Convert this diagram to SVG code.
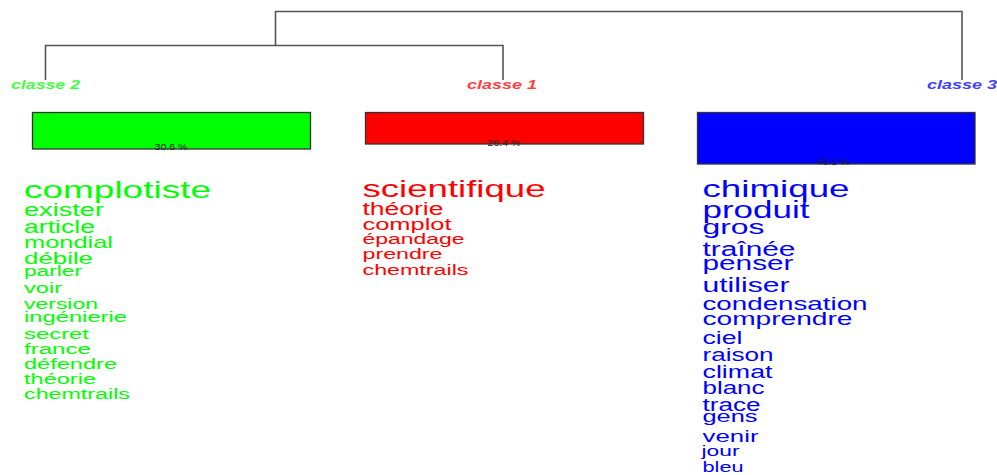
<svg xmlns="http://www.w3.org/2000/svg" width="997" height="475" viewBox="0 0 997 475">
<style>
text{font-family:"Liberation Sans",Arial,sans-serif}
.lbl{font-size:12px;font-style:italic;font-weight:bold}
.pct{font-size:9px;fill:#222;text-anchor:middle}
.g{fill:#00ff00}.r{fill:#ff0000}.b{fill:#0000ff}
.tree{fill:none;stroke:#555;stroke-width:1.6}
.box{stroke:#333;stroke-width:1.3}
</style>
<rect width="997" height="475" fill="#fff"/>
<g id="connectors">
<path class="tree" d="M275.5,45.5V11.5H962V80"/>
<path class="tree" d="M45.5,80V45.5H503V80"/>
</g>
<g id="classe2">
<text class="lbl g" x="11" y="89" textLength="69" lengthAdjust="spacingAndGlyphs" opacity="0.75">classe  2</text>
<rect class="box" x="32.5" y="112.5" width="278" height="36.5" fill="#00ff00"/>
<text class="pct" x="171" y="150" textLength="33" lengthAdjust="spacingAndGlyphs">30.6 %</text>
<g class="g">
<text x="24" y="198" font-size="24" textLength="187" lengthAdjust="spacingAndGlyphs">complotiste</text>
<text x="24" y="216" font-size="18" textLength="80" lengthAdjust="spacingAndGlyphs">exister</text>
<text x="24" y="233" font-size="17.5" textLength="71" lengthAdjust="spacingAndGlyphs">article</text>
<text x="24" y="247.5" font-size="17" textLength="89" lengthAdjust="spacingAndGlyphs">mondial</text>
<text x="24" y="263.5" font-size="17" textLength="69" lengthAdjust="spacingAndGlyphs">débile</text>
<text x="24" y="276" font-size="15.5" textLength="58" lengthAdjust="spacingAndGlyphs">parler</text>
<text x="24" y="293" font-size="15.5" textLength="38" lengthAdjust="spacingAndGlyphs">voir</text>
<text x="24" y="308.5" font-size="15.5" textLength="74" lengthAdjust="spacingAndGlyphs">version</text>
<text x="24" y="322" font-size="15.5" textLength="103" lengthAdjust="spacingAndGlyphs">ingénierie</text>
<text x="24" y="338.5" font-size="15.5" textLength="65" lengthAdjust="spacingAndGlyphs">secret</text>
<text x="24" y="354" font-size="15.5" textLength="67" lengthAdjust="spacingAndGlyphs">france</text>
<text x="24" y="369" font-size="15.5" textLength="93" lengthAdjust="spacingAndGlyphs">défendre</text>
<text x="24" y="383.5" font-size="15.5" textLength="72" lengthAdjust="spacingAndGlyphs">théorie</text>
<text x="24" y="398.5" font-size="15.5" textLength="106" lengthAdjust="spacingAndGlyphs">chemtrails</text>
</g>
</g>
<g id="classe1">
<text class="lbl r" x="467" y="89" textLength="70" lengthAdjust="spacingAndGlyphs" opacity="0.75">classe  1</text>
<rect class="box" x="365.5" y="112.5" width="278" height="31.5" fill="#ff0000"/>
<text class="pct" x="504" y="145.5" textLength="33" lengthAdjust="spacingAndGlyphs">26.4 %</text>
<g class="r">
<text x="362.5" y="197" font-size="24" textLength="183" lengthAdjust="spacingAndGlyphs">scientifique</text>
<text x="362.5" y="215" font-size="17.5" textLength="81" lengthAdjust="spacingAndGlyphs">théorie</text>
<text x="362.5" y="229.5" font-size="17" textLength="89" lengthAdjust="spacingAndGlyphs">complot</text>
<text x="362.5" y="244" font-size="15.5" textLength="102" lengthAdjust="spacingAndGlyphs">épandage</text>
<text x="362.5" y="258.5" font-size="15.5" textLength="80" lengthAdjust="spacingAndGlyphs">prendre</text>
<text x="362.5" y="275" font-size="15.5" textLength="106" lengthAdjust="spacingAndGlyphs">chemtrails</text>
</g>
</g>
<g id="classe3">
<text class="lbl b" x="927" y="89" textLength="70" lengthAdjust="spacingAndGlyphs" opacity="0.75">classe  3</text>
<rect class="box" x="697.5" y="112.5" width="277.5" height="51.5" fill="#0000ff"/>
<text class="pct" x="833" y="165" textLength="33" lengthAdjust="spacingAndGlyphs">43.1 %</text>
<g class="b">
<text x="702.5" y="197" font-size="24" textLength="147" lengthAdjust="spacingAndGlyphs">chimique</text>
<text x="702.5" y="217.5" font-size="23" textLength="107" lengthAdjust="spacingAndGlyphs">produit</text>
<text x="702.5" y="234" font-size="21" textLength="62" lengthAdjust="spacingAndGlyphs">gros</text>
<text x="702.5" y="256" font-size="19.5" textLength="93" lengthAdjust="spacingAndGlyphs">traînée</text>
<text x="702.5" y="270" font-size="19.5" textLength="91" lengthAdjust="spacingAndGlyphs">penser</text>
<text x="702.5" y="291.5" font-size="19.5" textLength="87" lengthAdjust="spacingAndGlyphs">utiliser</text>
<text x="702.5" y="309.5" font-size="18.5" textLength="165" lengthAdjust="spacingAndGlyphs">condensation</text>
<text x="702.5" y="325" font-size="18.5" textLength="150" lengthAdjust="spacingAndGlyphs">comprendre</text>
<text x="702.5" y="344" font-size="17.5" textLength="40" lengthAdjust="spacingAndGlyphs">ciel</text>
<text x="702.5" y="360.5" font-size="17.5" textLength="71" lengthAdjust="spacingAndGlyphs">raison</text>
<text x="702.5" y="377.5" font-size="17.5" textLength="70" lengthAdjust="spacingAndGlyphs">climat</text>
<text x="702.5" y="394" font-size="17.5" textLength="62" lengthAdjust="spacingAndGlyphs">blanc</text>
<text x="702.5" y="410.5" font-size="17.5" textLength="58" lengthAdjust="spacingAndGlyphs">trace</text>
<text x="702.5" y="421.5" font-size="17" textLength="55" lengthAdjust="spacingAndGlyphs">gens</text>
<text x="702.5" y="441.5" font-size="17" textLength="56" lengthAdjust="spacingAndGlyphs">venir</text>
<text x="701.5" y="456" font-size="15.5" textLength="38" lengthAdjust="spacingAndGlyphs">jour</text>
<text x="702.5" y="471.5" font-size="15" textLength="41" lengthAdjust="spacingAndGlyphs">bleu</text>
</g>
</g>
</svg>
